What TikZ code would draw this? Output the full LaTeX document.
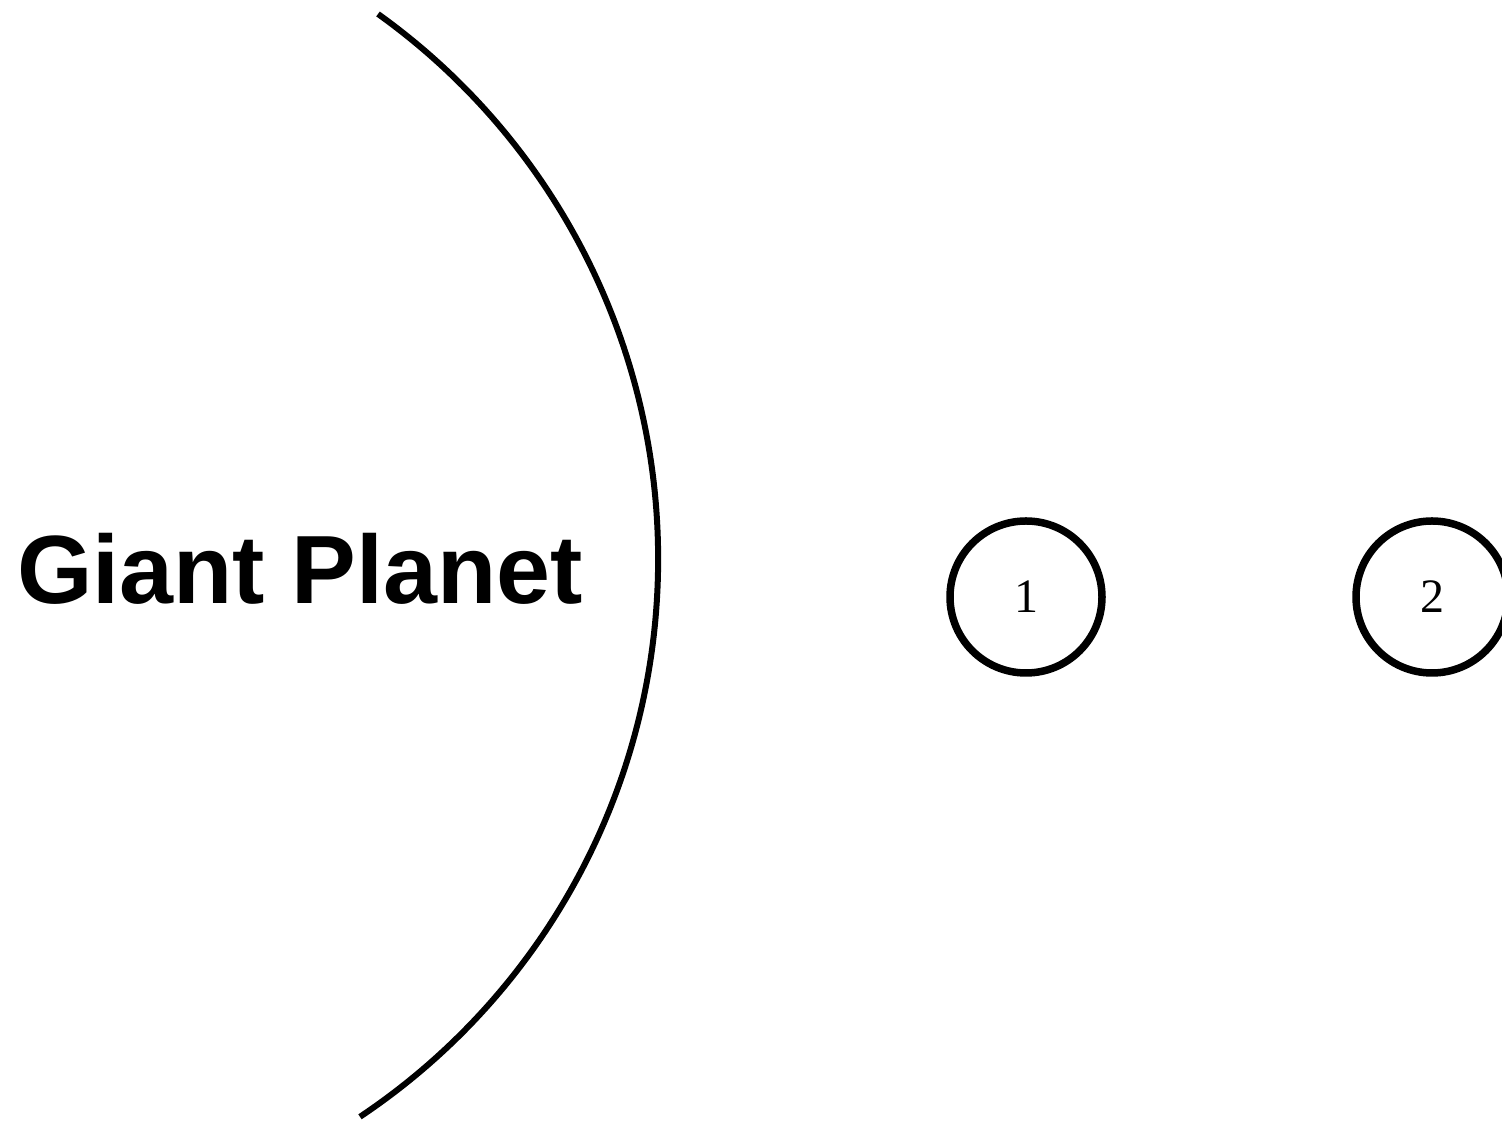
\documentclass[tikz,border=0pt]{standalone}
\usepackage{fontspec}
\setmainfont{Liberation Serif}
\newfontfamily\arialfont{Liberation Sans}
\begin{document}
\begin{tikzpicture}[x=1pt,y=1pt,
  moon/.style={circle,draw=black,line width=7.5pt,minimum size=152pt,inner sep=0pt,
    font=\fontsize{48}{48}\selectfont},
  planetlabel/.style={font=\arialfont\bfseries\fontsize{97}{97}\selectfont,inner sep=0pt}]
\useasboundingbox (0,0) rectangle (1502,1123);
\node[planetlabel] (giant) at (300,554) {Giant Planet};
\coordinate (arcstart) at (378,1109);
\draw[line width=6pt] (arcstart) arc[start angle=54.39,end angle=-56.26,radius=670.6];
\node[moon] (m1) at (1026,526) {1};
\node[moon] (m2) at (1432,526) {2};
\end{tikzpicture}
\end{document}
